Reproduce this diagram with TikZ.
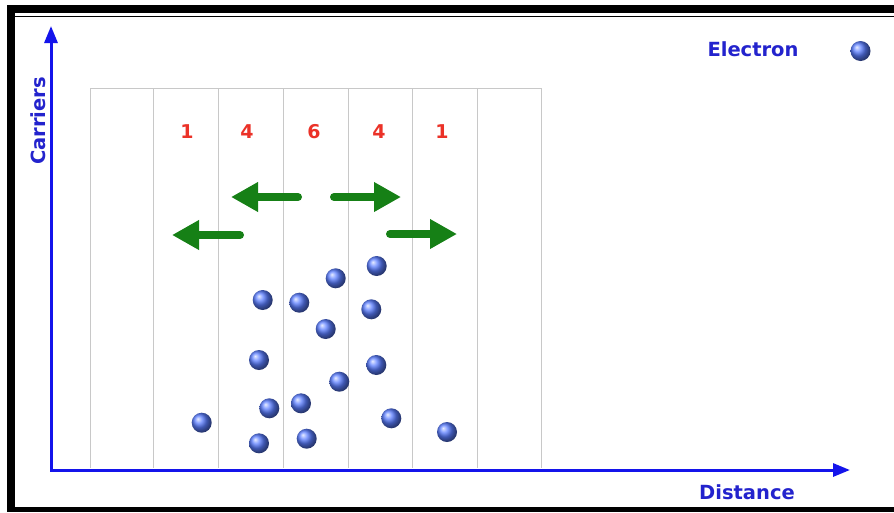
\documentclass[tikz,border=0pt]{standalone}
\usepackage{fontspec}
\setmainfont{DejaVu Sans}
\usetikzlibrary{arrows.meta}
\definecolor{axisblue}{RGB}{20,20,235}
\definecolor{txtblue}{RGB}{35,35,205}
\definecolor{numred}{RGB}{235,50,40}
\definecolor{arrgreen}{RGB}{22,128,22}
\definecolor{gridgray}{RGB}{200,200,200}
\definecolor{ballblue}{RGB}{90,125,255}
\begin{document}
\begin{tikzpicture}[x=1pt,y=-1pt,
  elec/.style={circle,minimum size=20pt,inner sep=0pt,shading=ball,ball color=ballblue},
  lbl/.style={font=\bfseries\fontsize{19.5}{19.5}\selectfont,text=txtblue,inner sep=0pt},
  num/.style={font=\bfseries\fontsize{19}{19}\selectfont,text=numred,inner sep=0pt},
  axisline/.style={axisblue,line width=3pt,line join=miter,{Triangle[length=17pt,width=13pt]}-{Triangle[length=17pt,width=13pt]}},
  flow/.style={arrgreen,line width=8pt,line cap=round,-{Triangle[length=27pt,width=28pt]}},
  gridline/.style={gridgray,line width=1pt}]
\useasboundingbox (0,0) rectangle (894,512);
\fill[white] (0,0) rectangle (894,512);
% frame
\fill[black] (7,5) rectangle (894,13);
\fill[black] (7,5) rectangle (15,512);
\fill[black] (7,507) rectangle (894,512);
\draw[black,line width=1.5pt] (15,16.5) -- (894,16.5);
% grid
\draw[gridline] (90,468) -- (90,88) -- (541,88) -- (541,468);
\foreach \gx in {153,218,283,348,412,477} {\draw[gridline] (\gx,88) -- (\gx,468);}
% axes
\coordinate (O) at (51,470);
\coordinate (ytip) at (51,26);
\coordinate (xtip) at (850,470);
\draw[axisline] (ytip) -- (O) -- (xtip);
% labels
\node[lbl,rotate=90] (carriers) at (38.5,121) {Carriers};
\node[lbl] (distance) at (747,492) {Distance};
\node[lbl] (electron) at (753,49) {Electron};
\node[elec] (legend) at (860.5,51) {};
% counts
\node[num] (n1) at (187,132) {1};
\node[num] (n2) at (247,132) {4};
\node[num] (n3) at (314,132) {6};
\node[num] (n4) at (379,132) {4};
\node[num] (n5) at (442,132) {1};
% flow arrows
\coordinate (a1s) at (298,197); \coordinate (a1e) at (231,197);
\coordinate (a2s) at (334,197); \coordinate (a2e) at (401,197);
\coordinate (a3s) at (240,235); \coordinate (a3e) at (172,235);
\coordinate (a4s) at (390,234); \coordinate (a4e) at (457,234);
\draw[flow] (a1s) -- (a1e);
\draw[flow] (a2s) -- (a2e);
\draw[flow] (a3s) -- (a3e);
\draw[flow] (a4s) -- (a4e);
% electrons
\node[elec] (e1) at (376.7,266) {};
\node[elec] (e2) at (335.7,278.3) {};
\node[elec] (e3) at (262.7,300) {};
\node[elec] (e4) at (299.3,302.7) {};
\node[elec] (e5) at (371.3,309.3) {};
\node[elec] (e6) at (325.7,329) {};
\node[elec] (e7) at (259,360) {};
\node[elec] (e8) at (376.3,365) {};
\node[elec] (e9) at (339.3,381.7) {};
\node[elec] (e10) at (301,403.3) {};
\node[elec] (e11) at (269.3,408.3) {};
\node[elec] (e12) at (201.7,422.7) {};
\node[elec] (e13) at (391.3,418.3) {};
\node[elec] (e14) at (259,443.3) {};
\node[elec] (e15) at (306.7,438.7) {};
\node[elec] (e16) at (447,432) {};
\end{tikzpicture}
\end{document}
